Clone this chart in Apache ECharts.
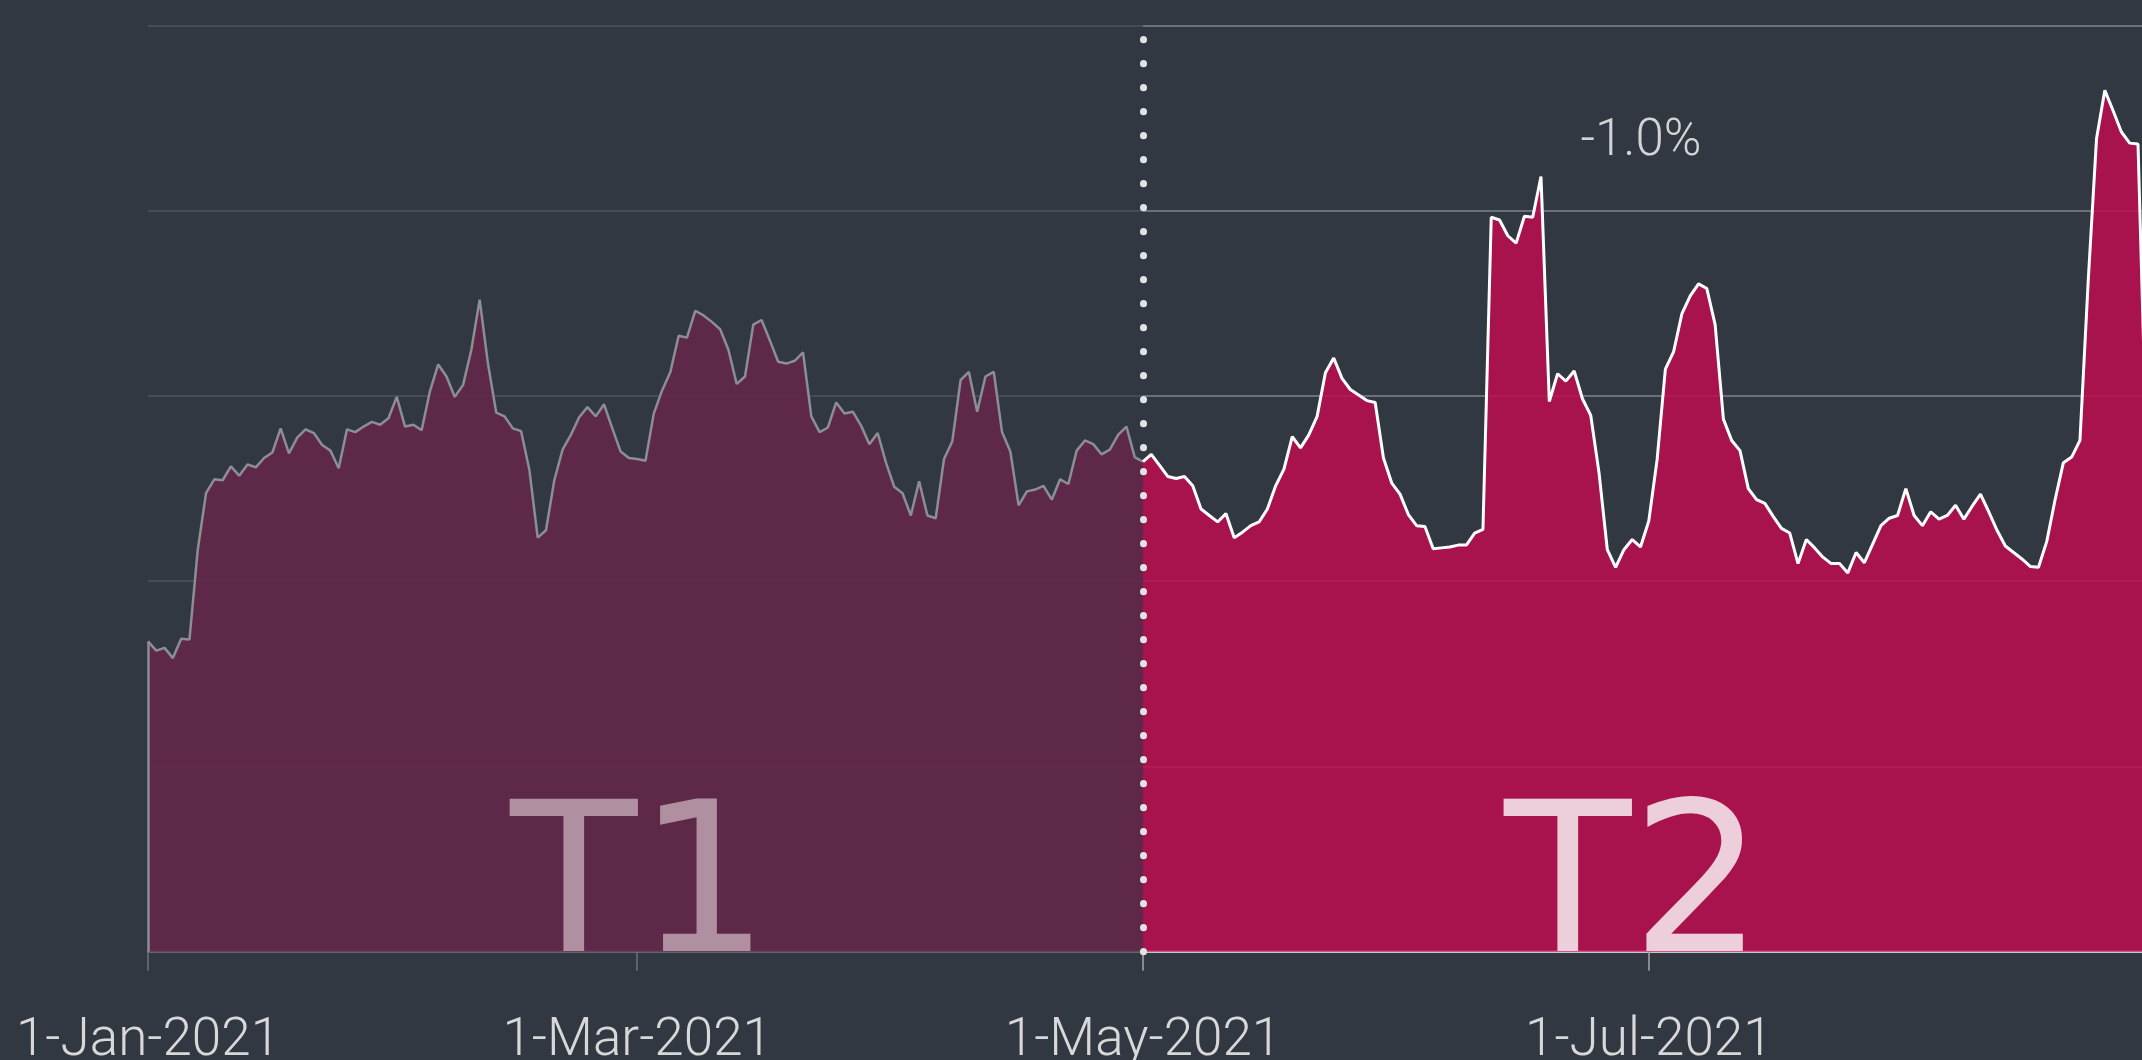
<!DOCTYPE html>
<html>
<head>
<meta charset="utf-8">
<title>T1 / T2</title>
<script src="https://cdn.jsdelivr.net/npm/echarts@6/dist/echarts.min.js"></script>
<style>
html, body { margin: 0; padding: 0; background: #323842; }
#main { width: 2142px; height: 1060px; }
</style>
</head>
<body>
<div id="main"></div>
<script>
var monthNames = ['Jan', 'Feb', 'Mar', 'Apr', 'May', 'Jun', 'Jul', 'Aug', 'Sep', 'Oct', 'Nov', 'Dec'];

// T1: daily values, 1-Jan-2021 .. 1-May-2021
var t1Start = '2021-01-01';
var t1Values = [
    33.5, 32.5, 32.8, 31.7, 33.8, 33.7, 43.4, 49.5, 51.0, 50.9,
    52.4, 51.4, 52.6, 52.3, 53.3, 53.9, 56.5, 53.8, 55.5, 56.4,
    56.0, 54.7, 54.1, 52.2, 56.4, 56.1, 56.7, 57.2, 56.9, 57.6,
    59.9, 56.7, 56.9, 56.3, 60.5, 63.4, 62.1, 59.9, 61.2, 65.0,
    70.4, 63.5, 58.2, 57.8, 56.5, 56.2, 52.0, 44.7, 45.5, 50.9,
    54.2, 55.8, 57.7, 58.8, 57.8, 59.1, 56.5, 54.0, 53.3, 53.2,
    53.0, 58.1, 60.6, 62.6, 66.5, 66.3, 69.2, 68.7, 68.0, 67.2,
    65.0, 61.3, 62.1, 67.7, 68.2, 66.0, 63.7, 63.5, 63.8, 64.7,
    57.8, 56.1, 56.6, 59.3, 58.1, 58.3, 56.8, 54.8, 56.0, 52.8,
    50.2, 49.5, 47.1, 50.8, 47.1, 46.8, 53.2, 55.1, 61.7, 62.6,
    58.3, 62.1, 62.6, 56.1, 54.0, 48.2, 49.7, 49.9, 50.3, 48.8,
    51.0, 50.5, 54.1, 55.2, 54.8, 53.7, 54.2, 55.8, 56.7, 53.4,
    52.9
];

// T2: daily values, 1-May-2021 .. 30-Aug-2021
var t2Start = '2021-05-01';
var t2Values = [
    52.9, 53.7, 52.5, 51.3, 51.1, 51.3, 50.3, 47.8, 47.1, 46.4,
    47.3, 44.7, 45.3, 46.0, 46.4, 47.8, 50.3, 52.1, 55.6, 54.4,
    55.8, 57.8, 62.5, 64.1, 61.9, 60.7, 60.1, 59.5, 59.3, 53.3,
    50.6, 49.4, 47.2, 46.0, 45.9, 43.5, 43.6, 43.7, 43.9, 43.9,
    45.2, 45.6, 79.3, 79.0, 77.3, 76.5, 79.4, 79.3, 83.7, 59.4,
    62.4, 61.6, 62.7, 59.7, 57.9, 51.7, 43.4, 41.5, 43.4, 44.5,
    43.7, 46.5, 53.1, 62.9, 64.8, 68.9, 70.8, 72.1, 71.6, 67.7,
    57.5, 55.2, 54.1, 50.0, 48.8, 48.4, 47.0, 45.7, 45.2, 41.9,
    44.5, 43.6, 42.6, 41.9, 41.9, 40.9, 43.1, 42.0, 44.0, 46.0,
    46.8, 47.1, 50.0, 47.1, 46.0, 47.5, 46.7, 47.1, 48.2, 46.7,
    48.1, 49.4, 47.5, 45.5, 43.8, 43.1, 42.4, 41.6, 41.5, 44.3,
    48.8, 52.8, 53.4, 55.2, 72.5, 87.8, 93.0, 90.8, 88.5, 87.3,
    87.2, 55.0
];

var leftTicks = ['2021-01-01', '2021-03-01'];
var rightTicks = ['2021-05-01', '2021-07-01'];
var periodNames = ['T1', 'T2'];
var changeText = '-1.0%';

// layout (pixels)
var GRID_LEFT = 148, SPLIT_X = 1143, GRID_TOP = 25.5, GRID_BOTTOM = 108.3;
var DAY = 24 * 3600 * 1000;

function parseDay(s) {
    var p = s.split('-');
    return new Date(+p[0], +p[1] - 1, +p[2]).getTime();
}

function toSeries(start, values) {
    var p = start.split('-');
    return values.map(function (v, i) {
        return [new Date(+p[0], +p[1] - 1, +p[2] + i).getTime(), v];
    });
}

function fmtDate(val) {
    var d = new Date(val);
    return d.getDate() + '-' + monthNames[d.getMonth()] + '-' + d.getFullYear();
}

var t1Data = toSeries(t1Start, t1Values);
var t2Data = toSeries(t2Start, t2Values);

var pxPerDay = (SPLIT_X - GRID_LEFT) / ((parseDay(t2Start) - parseDay(t1Start)) / DAY);
var rightMax = parseDay(t2Start) + (2142 - SPLIT_X) / pxPerDay * DAY;

var labelFont = {
    color: '#d8d8d8',
    fontSize: 53,
    fontFamily: 'Roboto',
    fontWeight: 300
};

// value axis over timestamps, so the ticks can be placed on given dates
function xAxisFor(gridIndex, min, max, ticks, axisColor, tickColor) {
    var vals = ticks.map(parseDay);
    return {
        type: 'value',
        gridIndex: gridIndex,
        min: min,
        max: max,
        scale: true,
        axisLine: { show: true, onZero: false, lineStyle: { color: axisColor, width: 2.5 } },
        axisTick: {
            show: true,
            length: 19,
            customValues: vals,
            lineStyle: { color: tickColor, width: 1.5 }
        },
        axisLabel: Object.assign({
            customValues: vals,
            margin: 64,
            showMinLabel: true,
            showMaxLabel: true,
            formatter: fmtDate
        }, labelFont),
        splitLine: { show: false }
    };
}

function yAxisFor(gridIndex, splitColor) {
    return {
        type: 'value',
        gridIndex: gridIndex,
        min: 0,
        max: 100,
        interval: 20,
        axisLine: { show: false },
        axisTick: { show: false },
        axisLabel: { show: false },
        splitLine: { show: true, lineStyle: { color: splitColor, width: 2 } }
    };
}

var chart = echarts.init(document.getElementById('main'));

var option = {
    backgroundColor: '#323842',
    animation: false,
    grid: [
        {
            left: GRID_LEFT, top: GRID_TOP, bottom: GRID_BOTTOM, width: SPLIT_X - GRID_LEFT,
            containLabel: false, outerBoundsMode: 'none'
        },
        {
            left: SPLIT_X, top: GRID_TOP, bottom: GRID_BOTTOM, right: 0,
            containLabel: false, outerBoundsMode: 'none'
        }
    ],
    xAxis: [
        xAxisFor(0, parseDay(t1Start), parseDay(t2Start), leftTicks, '#6c7179', '#6c7179'),
        xAxisFor(1, parseDay(t2Start), rightMax, rightTicks, '#e4e4e4', '#a4a7ac')
    ],
    yAxis: [
        yAxisFor(0, '#464c56'),
        yAxisFor(1, '#6b7079')
    ],
    series: [
        {
            name: periodNames[0],
            type: 'line',
            xAxisIndex: 0,
            yAxisIndex: 0,
            data: t1Data,
            showSymbol: false,
            symbol: 'none',
            clip: false,
            lineStyle: { color: '#8b8e95', width: 2.5 },
            areaStyle: { color: 'rgb(101,37,73)', opacity: 0.86, origin: 'start' },
            markLine: {
                silent: true,
                symbol: 'none',
                label: { show: false },
                lineStyle: { color: '#8b8e95', width: 2.5, type: 'solid' },
                data: [[{ coord: [t1Data[0][0], 0] }, { coord: [t1Data[0][0], t1Values[0]] }]]
            }
        },
        {
            name: periodNames[1],
            type: 'line',
            xAxisIndex: 1,
            yAxisIndex: 1,
            data: t2Data,
            showSymbol: false,
            symbol: 'none',
            clip: false,
            lineStyle: { color: '#ffffff', width: 3 },
            areaStyle: { color: 'rgb(187,12,79)', opacity: 0.86, origin: 'start' },
            markLine: {
                silent: true,
                symbol: 'none',
                label: { show: false },
                lineStyle: { color: '#e2e2e2', width: 7, type: [0.1, 23.9], cap: 'round' },
                data: [{ xAxis: t2Data[0][0] }]
            }
        }
    ],
    graphic: [
        {
            type: 'text',
            z: 100,
            x: 640,
            y: 897,
            style: {
                text: periodNames[0],
                fill: '#b08fa0',
                font: '208px "DejaVu Sans"',
                align: 'center',
                verticalAlign: 'middle'
            }
        },
        {
            type: 'text',
            z: 100,
            x: 1634,
            y: 897,
            style: {
                text: periodNames[1],
                fill: '#eccfdb',
                font: '208px "DejaVu Sans"',
                align: 'center',
                verticalAlign: 'middle'
            }
        },
        {
            type: 'text',
            z: 100,
            x: 1641,
            y: 142,
            style: {
                text: changeText,
                fill: '#d4d4d4',
                font: '300 51px Roboto',
                align: 'center',
                verticalAlign: 'middle'
            }
        }
    ]
};

chart.setOption(option);
</script>
</body>
</html>
